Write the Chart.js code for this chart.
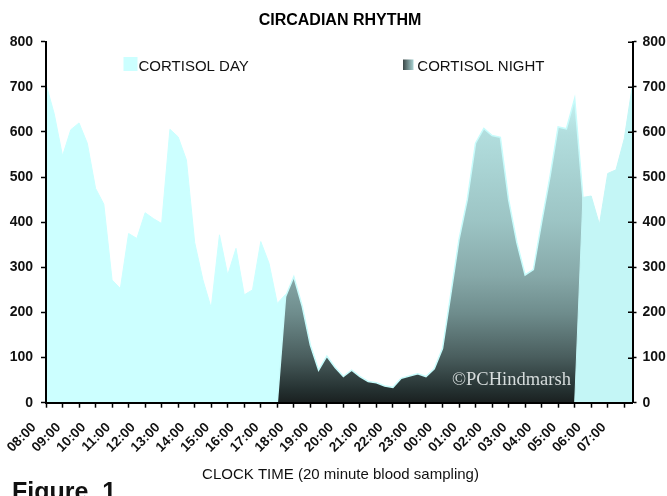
<!DOCTYPE html>
<html>
<head>
<meta charset="utf-8">
<title>Circadian rhythm</title>
<script src="https://cdn.jsdelivr.net/npm/chart.js@4.4.0/dist/chart.umd.min.js"></script>
<style>
    html, body { margin: 0; padding: 0; background: #fff; }
    #wrap { width: 667px; height: 496px; }
</style>
</head>
<body>
<div id="wrap"><canvas id="cortisol_chart" width="667" height="496"></canvas></div>
<script>
// Clock hours shown on the x axis (one label every 3 samples)
const hourLabels = ['08:00', '09:00', '10:00', '11:00', '12:00', '13:00', '14:00', '15:00',
    '16:00', '17:00', '18:00', '19:00', '20:00', '21:00', '22:00', '23:00',
    '00:00', '01:00', '02:00', '03:00', '04:00', '05:00', '06:00', '07:00'];
const sampleMinutes = ['00', '20', '40'];

// Cortisol, 20 minute blood sampling from 08:00 to 07:40
const dayValues = [706, 640, 547, 605, 620, 575, 475, 440, 272, 253,
    375, 364, 421, 408, 397, 606, 589, 538, 355, 272,
    210, 372, 283, 342, 239, 250, 357, 309, 220, 240,
    0, 0, 0, 0, 0, 0, 0, 0, 0, 0,
    0, 0, 0, 0, 0, 0, 0, 0, 0, 0,
    0, 0, 0, 0, 0, 0, 0, 0, 0, 0,
    0, 0, 0, 0, 0, 455, 458, 395, 508, 516,
    585, 705];
const nightValues = [0, 0, 0, 0, 0, 0, 0, 0, 0, 0,
    0, 0, 0, 0, 0, 0, 0, 0, 0, 0,
    0, 0, 0, 0, 0, 0, 0, 0, 0, 235,
    279, 215, 128, 72, 103, 78, 58, 72, 58, 47,
    44, 37, 34, 54, 59, 64, 58, 75, 120, 240,
    362, 450, 575, 608, 592, 588, 450, 355, 283, 295,
    400, 500, 611, 607, 674, 455, 0, 0, 0, 0,
    0, 0];

const yMax = 800;
const yStep = 100;

const fontFamily = '"Liberation Sans", Arial, sans-serif';

// one category per sample
const sampleLabels = [];
hourLabels.forEach(function(h) {
    sampleMinutes.forEach(function(m) {
        sampleLabels.push(h.slice(0, 3) + m);
    });
});

// evening part sits behind the night series, early morning part in front of it
const splitIndex = 36;
const dayEvening = dayValues.map(function(v, i) { return i <= splitIndex ? v : null; });
const dayMorning = dayValues.map(function(v, i) { return i >= splitIndex ? v : null; });

function nightGradient(context) {
    const chart = context.chart;
    if (!chart.chartArea) {
        return '#6e8c8c';
    }
    const yScale = chart.scales.y;
    const g = chart.ctx.createLinearGradient(0, yScale.getPixelForValue(0), 0, yScale.getPixelForValue(680));
    g.addColorStop(0, '#1a2020');
    g.addColorStop(0.04, '#243030');
    g.addColorStop(0.15, '#4a5e5e');
    g.addColorStop(0.29, '#6e8c8c');
    g.addColorStop(0.41, '#86a8a8');
    g.addColorStop(0.59, '#9cc4c4');
    g.addColorStop(0.88, '#b2dede');
    g.addColorStop(1, '#c6f4f4');
    return g;
}

// Title, legend, watermark and captions
const textPlugin = {
    id: 'textPlugin',
    afterDatasetsDraw: function(chart) {
        const ctx = chart.ctx;
        ctx.save();
        ctx.fillStyle = '#d6dcdc';
        ctx.font = '18.5px "Liberation Serif", "Times New Roman", serif';
        ctx.textAlign = 'left';
        ctx.textBaseline = 'alphabetic';
        ctx.fillText('\u00A9PCHindmarsh', 452, 385);
        ctx.restore();
    },
    afterDraw: function(chart) {
        const ctx = chart.ctx;
        ctx.save();

        // right axis ticks cross the axis line: add the inner half
        const r = chart.scales.y2;
        ctx.strokeStyle = '#000';
        ctx.lineWidth = 1.5;
        ctx.beginPath();
        for (let v = 0; v <= yMax; v += yStep) {
            const py = Math.round(r.getPixelForValue(v)) + 0.25;
            ctx.moveTo(r.left - 4.5, py);
            ctx.lineTo(r.left, py);
        }
        ctx.stroke();

        ctx.textBaseline = 'alphabetic';
        ctx.fillStyle = '#000';
        ctx.textAlign = 'center';
        ctx.font = 'bold 16px ' + fontFamily;
        ctx.fillText('CIRCADIAN RHYTHM', 340, 25);

        // legend
        ctx.textAlign = 'left';
        ctx.fillStyle = '#ccffff';
        ctx.fillRect(123.5, 57, 14, 14);
        const lg = ctx.createLinearGradient(403, 0, 413.5, 0);
        lg.addColorStop(0, '#3a4646');
        lg.addColorStop(1, '#a8d2d2');
        ctx.fillStyle = lg;
        ctx.fillRect(403, 59.5, 10.5, 10.5);
        ctx.fillStyle = '#111';
        ctx.font = '15px ' + fontFamily;
        ctx.fillText('CORTISOL DAY', 138.5, 70.7);
        ctx.fillText('CORTISOL NIGHT', 417.3, 71);

        ctx.textAlign = 'center';
        ctx.fillText('CLOCK TIME (20 minute blood sampling)', 340.5, 479.3);

        ctx.textAlign = 'left';
        ctx.font = 'bold 25px ' + fontFamily;
        ctx.fillText('Figure  1', 12, 500);
        ctx.restore();
    }
};

const tickFont = { family: fontFamily, size: 14, weight: 'bold' };

function yAxis(position, width, tickLength, padding) {
    return {
        position: position,
        min: 0,
        max: yMax,
        ticks: { stepSize: yStep, padding: padding, color: '#111', font: tickFont },
        grid: { drawOnChartArea: false, tickLength: tickLength, tickWidth: 1.5, color: '#000' },
        border: { color: '#000', width: 2, z: 1 },
        afterFit: function(scale) { scale.width = width; }
    };
}

const ctx = document.getElementById('cortisol_chart').getContext('2d');
new Chart(ctx, {
    type: 'line',
    data: {
        labels: sampleLabels,
        datasets: [{
            label: 'CORTISOL DAY',
            data: dayMorning,
            order: 0,
            fill: 'origin',
            backgroundColor: '#c4f6f6',
            borderColor: '#c4f6f6',
            borderWidth: 1
        }, {
            label: 'CORTISOL NIGHT',
            data: nightValues,
            order: 1,
            fill: 'origin',
            backgroundColor: nightGradient,
            borderColor: '#c8fcfc',
            borderWidth: 1.5
        }, {
            label: 'CORTISOL DAY',
            data: dayEvening,
            order: 2,
            fill: 'origin',
            backgroundColor: '#ccffff',
            borderColor: '#ccffff',
            borderWidth: 1
        }]
    },
    options: {
        responsive: false,
        animation: false,
        layout: { padding: { top: 41.7, left: 0, right: 0, bottom: 0 } },
        elements: {
            point: { radius: 0, hoverRadius: 0 },
            line: { tension: 0 }
        },
        plugins: {
            legend: { display: false },
            title: { display: false },
            tooltip: { enabled: false }
        },
        scales: {
            x: {
                type: 'category',
                offset: false,
                grid: {
                    drawOnChartArea: false,
                    tickLength: 5,
                    tickWidth: 1.5,
                    tickColor: function(c) { return c.index % 2 === 0 ? '#000' : 'rgba(0,0,0,0)'; }
                },
                border: { color: '#000', width: 2, z: 1 },
                ticks: {
                    autoSkip: false,
                    minRotation: 45,
                    maxRotation: 45,
                    padding: 12,
                    labelOffset: -12,
                    color: '#111',
                    font: { family: fontFamily, size: 13.5, weight: 'bold' },
                    callback: function(value, index) {
                        return index % 3 === 0 ? hourLabels[index / 3] : '';
                    }
                },
                afterFit: function(scale) { scale.height = 93.3; }
            },
            y: yAxis('left', 46, 5, 8),
            y2: yAxis('right', 34.5, 4, 6)
        }
    },
    plugins: [textPlugin]
});
</script>
</body>
</html>
